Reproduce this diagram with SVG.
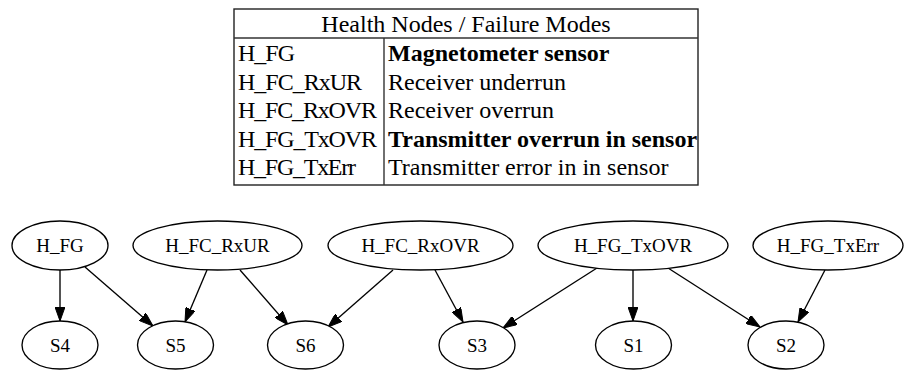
<svg xmlns="http://www.w3.org/2000/svg" width="912" height="372" viewBox="0 0 912 372">
  <style>
    .tbl { fill: #ffffff; stroke: #222222; stroke-width: 1.4; }
    .rule { stroke: #333333; stroke-width: 1.4; fill: none; }
    .ttxt { font-family: "Liberation Serif", "Times New Roman", serif; font-size: 24px; fill: #000000; }
    .bold { font-weight: bold; }
    .node ellipse { fill: #ffffff; stroke: #000000; stroke-width: 1.35; }
    .node text { font-family: "Liberation Serif", "Times New Roman", serif; font-size: 19px; fill: #000000; text-anchor: middle; }
    .edge { stroke: #000000; stroke-width: 1.35; fill: none; marker-end: url(#arrow); }
  </style>
  <defs>
    <marker id="arrow" markerUnits="userSpaceOnUse" viewBox="0 0 14 10" markerWidth="14" markerHeight="10" refX="14" refY="5" orient="auto">
      <path d="M0,0 L14,5 L0,10 z" fill="#000000" stroke="#000000" stroke-width="1"/>
    </marker>
  </defs>

  <rect width="912" height="372" fill="#ffffff"/>

  <!-- legend table; names in the first column are set a little tighter -->
  <g id="legend">
    <rect class="tbl" x="234" y="9" width="464" height="176"/>
    <line class="rule" x1="234" y1="38" x2="698" y2="38"/>
    <line class="rule" x1="384" y1="38" x2="384" y2="185"/>
    <text class="ttxt" x="466" y="32" text-anchor="middle">Health Nodes / Failure Modes</text>
    <text class="ttxt" x="238" y="61" textLength="57" lengthAdjust="spacing">H_FG</text>
    <text class="ttxt bold" x="388" y="61">Magnetometer sensor</text>
    <text class="ttxt" x="238" y="89.5" textLength="124" lengthAdjust="spacing">H_FC_RxUR</text>
    <text class="ttxt" x="388" y="89.5">Receiver underrun</text>
    <text class="ttxt" x="238" y="118" textLength="139" lengthAdjust="spacing">H_FC_RxOVR</text>
    <text class="ttxt" x="388" y="118">Receiver overrun</text>
    <text class="ttxt" x="238" y="146.5" textLength="139" lengthAdjust="spacing">H_FG_TxOVR</text>
    <text class="ttxt bold" x="388" y="146.5">Transmitter overrun in sensor</text>
    <text class="ttxt" x="238" y="175" textLength="118" lengthAdjust="spacing">H_FG_TxErr</text>
    <text class="ttxt" x="388" y="175">Transmitter error in in sensor</text>
  </g>

  <!-- connectors -->
  <g id="edges">
    <line class="edge" x1="60" y1="270" x2="60" y2="321"/>
    <line class="edge" x1="85" y1="267" x2="153" y2="326"/>
    <line class="edge" x1="207" y1="270" x2="185" y2="322"/>
    <line class="edge" x1="240" y1="270" x2="288" y2="325"/>
    <line class="edge" x1="393" y1="270" x2="328" y2="327"/>
    <line class="edge" x1="435" y1="270" x2="463" y2="322"/>
    <line class="edge" x1="597" y1="268" x2="503" y2="328"/>
    <line class="edge" x1="633" y1="270" x2="633" y2="321"/>
    <line class="edge" x1="668" y1="268" x2="760" y2="327"/>
    <line class="edge" x1="825" y1="270" x2="798" y2="322"/>
  </g>

  <!-- health nodes -->
  <g id="H_FG" class="node"><ellipse cx="60" cy="245.5" rx="48" ry="24.5"/><text x="60" y="252">H_FG</text></g>
  <g id="H_FC_RxUR" class="node"><ellipse cx="217.5" cy="245.5" rx="84.5" ry="24.5"/><text x="217.5" y="252">H_FC_RxUR</text></g>
  <g id="H_FC_RxOVR" class="node"><ellipse cx="420.5" cy="245.5" rx="92.5" ry="24.5"/><text x="420.5" y="252">H_FC_RxOVR</text></g>
  <g id="H_FG_TxOVR" class="node"><ellipse cx="633" cy="245.5" rx="95" ry="24.5"/><text x="633" y="252">H_FG_TxOVR</text></g>
  <g id="H_FG_TxErr" class="node"><ellipse cx="828" cy="245.5" rx="75" ry="24.5"/><text x="828" y="252">H_FG_TxErr</text></g>

  <!-- sensor nodes -->
  <g id="S4" class="node"><ellipse cx="60" cy="345" rx="38" ry="24"/><text x="60" y="351.5">S4</text></g>
  <g id="S5" class="node"><ellipse cx="175.5" cy="345" rx="38" ry="24"/><text x="175.5" y="351.5">S5</text></g>
  <g id="S6" class="node"><ellipse cx="305.5" cy="345" rx="38" ry="24"/><text x="305.5" y="351.5">S6</text></g>
  <g id="S3" class="node"><ellipse cx="477" cy="345" rx="38" ry="24"/><text x="477" y="351.5">S3</text></g>
  <g id="S1" class="node"><ellipse cx="633.5" cy="345" rx="38" ry="24"/><text x="633.5" y="351.5">S1</text></g>
  <g id="S2" class="node"><ellipse cx="786" cy="345" rx="38" ry="24"/><text x="786" y="351.5">S2</text></g>
</svg>
